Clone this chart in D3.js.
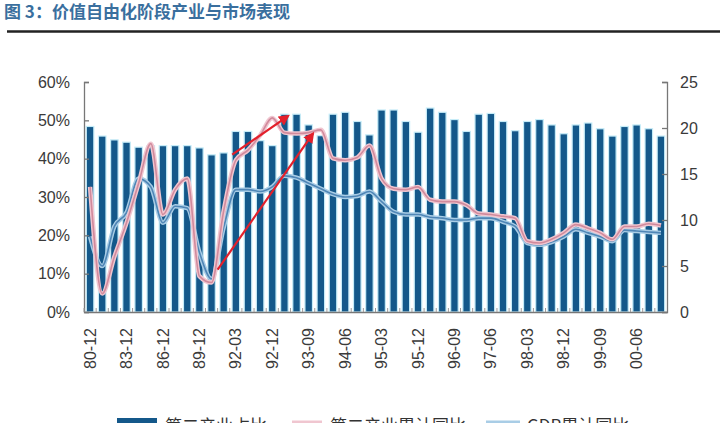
<!DOCTYPE html>
<html lang="zh">
  <head>
    <meta charset="UTF-8" />
    <title>价值自由化阶段产业与市场表现</title>
    <style>
      body { margin: 0; background: #fff; }
      svg { display: block; font-family: "Liberation Sans", Arial, sans-serif; }
      .title { font-family: "Noto Sans CJK SC", sans-serif; font-weight: bold; }
      .legend text { font-family: "Noto Sans CJK SC", sans-serif; }
    </style>
  </head>
  <body>
    <div id="chart"></div>
    <script src="https://cdn.jsdelivr.net/npm/d3@7"></script>
    <script>
      /* global d3 */

      // periods (annual to 91, quarterly after)
      const periods = [
        "80-12", "81-12", "82-12", "83-12", "84-12", "85-12", "86-12", "87-12",
        "88-12", "89-12", "90-12", "91-12", "92-03", "92-06", "92-09", "92-12",
        "93-03", "93-06", "93-09", "93-12", "94-03", "94-06", "94-09", "94-12",
        "95-03", "95-06", "95-09", "95-12", "96-03", "96-06", "96-09", "96-12",
        "97-03", "97-06", "97-09", "97-12", "98-03", "98-06", "98-09", "98-12",
        "99-03", "99-06", "99-09", "99-12", "00-03", "00-06", "00-09", "00-12"
      ];

      // 第二产业占比 (%, left axis)
      const industryShare = [
        48.4, 45.9, 44.9, 44.3, 43.0, 43.4, 43.4, 43.4, 43.4, 42.8, 41.0, 41.5,
        47.1, 47.1, 44.7, 43.4, 51.6, 51.6, 48.8, 46.0, 51.6, 52.1, 49.7, 46.2,
        52.7, 52.7, 49.7, 46.9, 53.2, 52.1, 50.2, 47.1, 51.6, 51.8, 49.7, 47.3,
        49.7, 50.2, 48.8, 46.5, 48.8, 49.3, 47.8, 45.9, 48.4, 48.8, 47.8, 45.9
      ];

      // 第二产业累计同比 (right axis)
      const industryYoY = [
        13.6, 2.0, 6.0, 9.7, 14.0, 18.3, 10.6, 13.3, 14.5, 3.9, 3.2, 11.0,
        16.5, 17.6, 19.2, 21.1, 19.5, 19.4, 19.5, 19.8, 16.7, 16.5, 16.8, 18.1,
        14.5, 13.4, 13.3, 13.6, 12.2, 12.0, 12.0, 11.6, 10.7, 10.6, 10.4, 10.2,
        7.7, 7.5, 7.9, 8.6, 9.5, 9.1, 8.6, 7.9, 9.3, 9.3, 9.6, 9.4
      ];

      // GDP累计同比 (right axis)
      const gdpYoY = [
        8.2, 5.0, 9.3, 10.8, 14.5, 13.6, 9.7, 11.5, 11.3, 6.5, 3.6, 9.2,
        13.3, 13.3, 13.1, 13.6, 14.8, 14.6, 14.0, 13.4, 12.8, 12.5, 12.6, 13.1,
        12.0, 10.9, 10.6, 10.6, 10.3, 10.2, 10.0, 10.0, 10.2, 10.2, 9.8, 9.3,
        7.5, 7.3, 7.6, 8.2, 9.0, 8.6, 8.2, 7.7, 8.9, 8.8, 8.7, 8.6
      ];

      const leftTicks = [0, 10, 20, 30, 40, 50, 60];
      const rightTicks = [0, 5, 10, 15, 20, 25];

      // red annotation arrows: [period index, right-axis value]
      const arrows = [
        [[11.7, 17.1], [16.3, 21.3]],
        [[10.5, 4.6], [18.35, 19.4]]
      ];

      const legendItems = ["第二产业占比", "第二产业累计同比", "GDP累计同比"];

      let width = 720,
        height = 423;
      let plotLeft = 84,
        plotRight = 667,
        plotTop = 82,
        plotBottom = 312;

      let svg = d3
        .select("#chart")
        .append("svg")
        .attr("width", width)
        .attr("height", height);

      // title + rule
      svg
        .append("text")
        .attr("class", "title")
        .attr("x", 4)
        .attr("y", 18)
        .attr("font-size", 17)
        .attr("fill", "#3a6f9e")
        .text("图 3：价值自由化阶段产业与市场表现");

      svg
        .append("line")
        .attr("x1", 7)
        .attr("x2", 720)
        .attr("y1", 31.5)
        .attr("y2", 31.5)
        .attr("stroke", "#222")
        .attr("stroke-width", 2.5);

      let x = d3
        .scaleBand()
        .domain(periods)
        .range([plotLeft, plotRight])
        .paddingInner(0.38)
        .paddingOuter(0.19);
      let xi = d3
        .scaleLinear()
        .domain([0, periods.length - 1])
        .range([
          x(periods[0]) + x.bandwidth() / 2,
          x(periods[periods.length - 1]) + x.bandwidth() / 2
        ]);
      let yL = d3.scaleLinear().domain([0, 60]).range([plotBottom, plotTop]);
      let yR = d3.scaleLinear().domain([0, 25]).range([plotBottom, plotTop]);

      // bars
      svg
        .append("g")
        .selectAll("rect")
        .data(industryShare)
        .join("rect")
        .attr("x", (d, i) => x(periods[i]))
        .attr("y", (d) => yL(d))
        .attr("width", x.bandwidth())
        .attr("height", (d) => yL(0) - yL(d))
        .attr("fill", "#14588a")
        .attr("stroke", "#c6ecf8")
        .attr("stroke-width", 1.2);

      // lines with soft halo
      let line = (s) =>
        d3
          .line()
          .x((d, i) => xi(i))
          .y((d) => yR(d))
          .curve(d3.curveMonotoneX)(s);

      function drawSeries(s, halo, core) {
        svg.append("path").attr("d", line(s)).attr("fill", "none")
          .attr("stroke", halo).attr("stroke-width", 4.5).attr("stroke-linejoin", "round");
        svg.append("path").attr("d", line(s)).attr("fill", "none")
          .attr("stroke", core).attr("stroke-width", 1.6).attr("stroke-linejoin", "round");
      }
      drawSeries(gdpYoY, "#a9cde6", "#4f86b6");
      drawSeries(industryYoY, "#f0c6d0", "#d18a9c");

      // arrows
      svg
        .append("defs")
        .append("marker")
        .attr("id", "head")
        .attr("viewBox", "0 0 10 10")
        .attr("refX", 8)
        .attr("refY", 5)
        .attr("markerWidth", 5)
        .attr("markerHeight", 5)
        .attr("orient", "auto")
        .append("path")
        .attr("d", "M0,0L10,5L0,10z")
        .attr("fill", "#e3202b");

      svg
        .append("g")
        .selectAll("line")
        .data(arrows)
        .join("line")
        .attr("x1", (d) => xi(d[0][0]))
        .attr("y1", (d) => yR(d[0][1]))
        .attr("x2", (d) => xi(d[1][0]))
        .attr("y2", (d) => yR(d[1][1]))
        .attr("stroke", "#e3202b")
        .attr("stroke-width", 2.2)
        .attr("marker-end", "url(#head)");

      // axes
      let axL = svg
        .append("g")
        .attr("transform", `translate(${plotLeft},0)`)
        .call(d3.axisRight(yL).tickValues(leftTicks).tickSize(5).tickFormat((d) => d + "%"));
      axL.selectAll("text").attr("x", -14).attr("text-anchor", "end");

      let axR = svg
        .append("g")
        .attr("transform", `translate(${plotRight},0)`)
        .call(d3.axisLeft(yR).tickValues(rightTicks).tickSize(5));
      axR.selectAll("text").attr("x", 13).attr("text-anchor", "start");

      let axB = svg
        .append("g")
        .attr("transform", `translate(0,${plotBottom})`)
        .call(
          d3
            .axisBottom(x)
            .tickValues(periods.filter((d, i) => i % 3 === 0))
            .tickSize(0)
            .tickPadding(0)
        );
      axB
        .selectAll("text")
        .attr("transform", "rotate(-90)")
        .attr("x", -16)
        .attr("y", 0)
        .attr("dy", "0.35em")
        .attr("text-anchor", "end");

      // small band ticks on x axis
      svg
        .append("g")
        .selectAll("line")
        .data(periods)
        .join("line")
        .attr("x1", (d) => x(d) - (x.step() - x.bandwidth()) / 2)
        .attr("x2", (d) => x(d) - (x.step() - x.bandwidth()) / 2)
        .attr("y1", plotBottom)
        .attr("y2", plotBottom - 4)
        .attr("stroke", "#9a9a9a");

      for (let ax of [axL, axR, axB]) {
        ax.selectAll("text").attr("font-size", 16).attr("fill", "#3a3a3a")
          .attr("font-family", "Liberation Sans, Arial, sans-serif");
        ax.selectAll("path, line").attr("stroke", "#777").attr("stroke-width", 1.3);
      }

      // legend (mostly below the visible area, as in the source)
      let lg = svg.append("g").attr("class", "legend");
      lg.append("rect").attr("x", 117).attr("y", 418).attr("width", 40).attr("height", 12).attr("fill", "#14588a");
      lg.append("line").attr("x1", 292).attr("x2", 322).attr("y1", 422).attr("y2", 422)
        .attr("stroke", "#f0c6d0").attr("stroke-width", 3);
      lg.append("line").attr("x1", 486).attr("x2", 520).attr("y1", 422).attr("y2", 422)
        .attr("stroke", "#a9cde6").attr("stroke-width", 3);
      lg.selectAll("text")
        .data(legendItems)
        .join("text")
        .attr("x", (d, i) => [165, 330, 527][i])
        .attr("y", 432)
        .attr("font-size", 17)
        .attr("fill", "#333")
        .text((d) => d);
    </script>
  </body>
</html>
